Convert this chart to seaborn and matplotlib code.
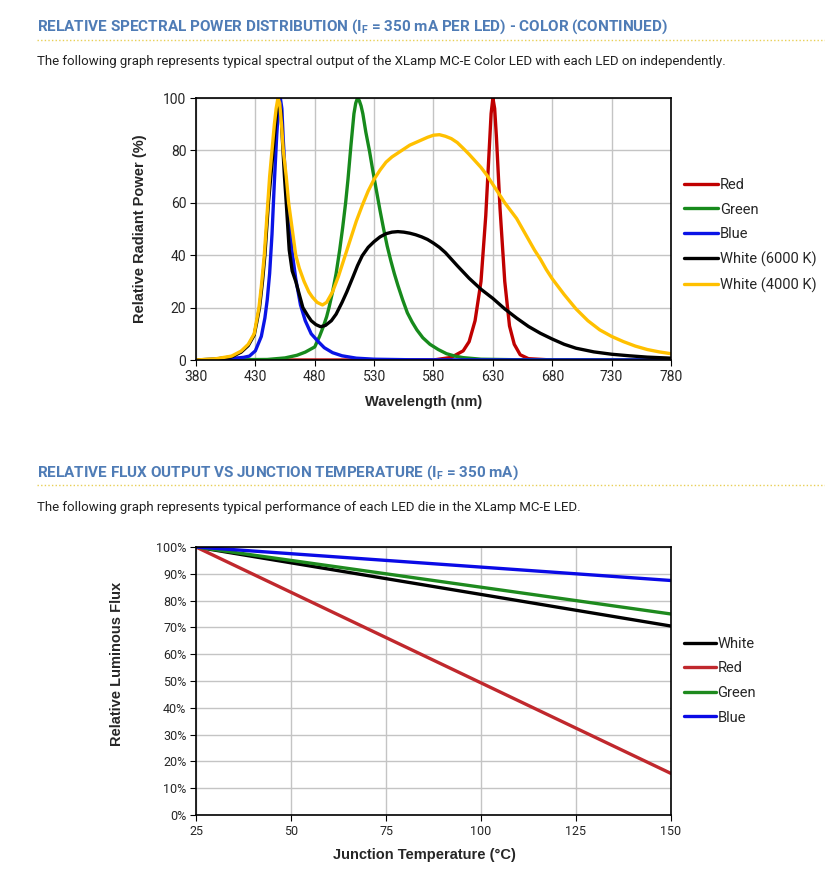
import numpy as np
import pandas as pd
import matplotlib
matplotlib.use("Agg")
import matplotlib.pyplot as plt
from matplotlib.lines import Line2D
import seaborn as sns

# ---------------- data: spectral power distribution ----------------
red_wl = [380, 580, 595, 605, 610, 615, 620, 624, 627, 628.5, 630, 631.5, 633, 636, 640, 644, 648, 653, 660, 680, 780]
red_val = [0, 0, 1, 3.5, 7, 15, 30, 55, 81, 94, 100, 96, 85, 58, 30, 13, 6, 2, 0.5, 0, 0]

green_wl = [380, 440, 455, 465, 472, 480, 484, 487, 490, 492, 495, 498, 501, 503.5, 506, 508, 510.5, 513, 514.5, 516,
            517.5, 519, 520.5, 523, 526, 529, 532, 535, 538, 541, 544, 547, 550, 554, 558, 562, 566, 571, 577, 584,
            591, 598, 605, 620, 650, 780]
green_val = [0, 0.2, 0.8, 1.8, 3, 5, 9, 12.5, 16.5, 20, 26, 33, 42, 50.5, 60, 69, 82, 94, 98, 100,
             99, 97, 94, 87, 80, 72, 64.5, 57, 50, 43.5, 38, 33, 28.5, 23, 18, 14.5, 11.5, 8.5, 6, 4,
             2.4, 1.5, 0.9, 0.3, 0.1, 0]

blue_wl = [380, 400, 420, 425, 430, 435, 438, 440, 442, 444, 446, 448, 449.5, 451, 452.3, 453.5, 455, 457, 459, 461,
           464, 468, 472, 477, 483, 488, 495, 503, 515, 530, 560, 600, 780]
blue_val = [0, 0.2, 1.0, 1.5, 3.5, 9, 16, 23, 33, 48, 68, 86, 96, 100, 96, 84, 72, 60, 50, 41,
            31, 21, 15, 10, 7, 4.7, 2.8, 1.6, 0.7, 0.3, 0.1, 0.05, 0]

w6000_wl = [380, 397, 410, 418, 424, 429, 431, 433.5, 436, 438, 439.5, 441, 443, 445, 447, 448.5, 450, 451.5, 453,
            454.5, 456, 458.5, 461, 464, 467, 470, 474, 477, 481, 485, 489, 494, 498, 503, 507, 512, 516,
            520, 525, 530, 535, 540, 545, 550, 555, 560, 565, 570, 575, 580, 585, 590, 595, 600, 610, 620,
            630, 640, 650, 660, 670, 680, 690, 700, 715, 730, 745, 760, 780]
w6000_val = [0, 0.4, 1.2, 3, 5.5, 9.5, 14, 20, 30, 40, 50, 60, 70, 80, 90, 96, 98, 95, 82,
             70, 60, 42, 34, 30, 25, 20, 17, 15, 13.5, 12.7, 13.2, 15, 17.5, 22, 26, 31.5, 36,
             39.8, 43, 45.2, 47, 48.2, 48.8, 49, 48.8, 48.4, 47.8, 47, 46, 44.6, 43, 41, 38.5, 36, 31.2, 27,
             23.5, 19.5, 16, 12.8, 10.2, 8, 6, 4.5, 3.1, 2.2, 1.6, 1.1, 0.7]

w4000_wl = [380, 397, 410, 418, 424, 429, 431, 433, 435, 437.5, 439, 440.5, 442, 444, 446, 447.5, 449, 450.5, 452,
            453.5, 456, 458, 461, 464, 467, 471, 475, 478, 482, 486.5, 490, 495, 500, 505, 510, 515, 520,
            525, 530, 535, 540, 545, 550, 555, 560, 565, 570, 575, 580, 585, 590, 595, 600, 605, 610, 615,
            620, 625, 630, 635, 640, 645, 650, 655, 660, 665, 670, 675, 680, 690, 700, 710, 720, 730, 740,
            750, 760, 770, 780]
w4000_val = [0, 0.5, 1.5, 3.4, 6, 10, 15, 20, 28, 40, 50, 60, 70, 80, 90, 96, 100, 98, 90,
             80, 70, 60, 50, 40, 35, 30, 26, 24, 22, 21, 22, 26, 32, 39, 46, 53, 59,
             64.5, 69, 72.5, 75.5, 77.5, 79, 80.5, 82, 83, 84, 85, 85.8, 86, 85.4, 84.5, 83, 80.8, 78.5, 76,
             73.5, 70.5, 67, 63.5, 60, 57, 54, 50, 46, 42, 38.5, 34.5, 31, 25, 19.5, 15, 11.5, 9, 7,
             5.3, 4, 3.1, 2.4]

spec_names = ["Red", "Green", "Blue", "White (6000 K)", "White (4000 K)"]
spec_colors = ["#c00000", "#178a1c", "#0a14e6", "#000000", "#ffc000"]

# ---------------- data: relative flux vs junction temperature ----------------
temps = [25, 50, 75, 100, 125, 150]
flux_white = [100, 94.1, 88.2, 82.3, 76.4, 70.5]
flux_red = [100, 83.1, 66.2, 49.3, 32.4, 15.5]
flux_green = [100, 95.0, 90.0, 85.0, 80.0, 75.0]
flux_blue = [100, 97.5, 95.0, 92.5, 90.0, 87.5]
flux_names = ["White", "Red", "Green", "Blue"]
flux_colors = ["#000000", "#c0282d", "#1e8a1e", "#0a0ae6"]

# ---------------- build tables ----------------
spec_df = pd.concat([
    pd.DataFrame({"wl": w, "val": v, "series": n})
    for w, v, n in zip([red_wl, green_wl, blue_wl, w6000_wl, w4000_wl],
                       [red_val, green_val, blue_val, w6000_val, w4000_val], spec_names)
], ignore_index=True)

flux_df = pd.concat([
    pd.DataFrame({"t": temps, "val": v, "series": n})
    for v, n in zip([flux_white, flux_red, flux_green, flux_blue], flux_names)
], ignore_index=True)

# ---------------- styling ----------------
sns.set_theme(style="white")
plt.rcParams["font.family"] = ["Roboto", "DejaVu Sans"]
plt.rcParams["axes.edgecolor"] = "black"
plt.rcParams["axes.linewidth"] = 1.0

W, H = 825, 881
fig = plt.figure(figsize=(W / 100, H / 100), dpi=100)

def fx(px):
    return px / W

def fy(py):
    return 1 - py / H

title_color = "#4f7cb6"
dot_color = "#e8cf55"

def heading(y_title, y_line, y_sub, title, sub):
    fig.text(fx(37), fy(y_title), title, fontsize=11, fontweight="bold", color=title_color,
             family=["Roboto", "DejaVu Sans"], va="center", ha="left")
    fig.add_artist(Line2D([fx(37), fx(825)], [fy(y_line), fy(y_line)], transform=fig.transFigure,
                          color=dot_color, lw=1.0, linestyle=(0, (1, 1.6))))
    fig.text(fx(37), fy(y_sub), sub, fontsize=9.5, color="#222222",
             family=["Roboto", "DejaVu Sans"], va="center", ha="left")

heading(27, 40, 61,
        r"RELATIVE SPECTRAL POWER DISTRIBUTION (I$\mathregular{_F}$ = 350 mA PER LED) - COLOR (CONTINUED)",
        "The following graph represents typical spectral output of the XLamp MC-E Color LED with each LED on independently.")
heading(473, 485, 507,
        r"RELATIVE FLUX OUTPUT VS JUNCTION TEMPERATURE (I$\mathregular{_F}$ = 350 mA)",
        "The following graph represents typical performance of each LED die in the XLamp MC-E LED.")

label_font = dict(family=["Liberation Sans", "DejaVu Sans"], fontweight="bold", fontsize=10.5)

def style_axes(ax, ticksize):
    ax.grid(True, color="#c4c4c4", lw=1.0)
    ax.set_axisbelow(True)
    for s in ax.spines.values():
        s.set_visible(True)
        s.set_color("black")
        s.set_linewidth(1.2)
    ax.tick_params(axis="both", direction="out", length=4, width=0.8, color="black",
                   labelsize=ticksize, bottom=True, left=True, pad=3)

# ---------------- top chart ----------------
ax1 = fig.add_axes([fx(196), fy(360), fx(671) - fx(196), fy(98) - fy(360)])
sns.lineplot(data=spec_df, x="wl", y="val", hue="series", hue_order=spec_names,
             palette=dict(zip(spec_names, spec_colors)), estimator=None, sort=False,
             linewidth=2.4, ax=ax1)
ax1.set_xlim(380, 780)
ax1.set_ylim(0, 100)
ax1.set_xticks(np.arange(380, 781, 50))
ax1.set_yticks(np.arange(0, 101, 20))
style_axes(ax1, 10)
ax1.set_xlabel("Wavelength (nm)", **label_font)
ax1.set_ylabel("Relative Radiant Power (%)", **label_font)
ax1.xaxis.set_label_coords(0.48, -0.132)
ax1.yaxis.set_label_coords(-0.103, 0.5)
h, l = ax1.get_legend_handles_labels()
ax1.legend(h, l, loc="upper left", bbox_to_anchor=(fx(684), fy(178)), bbox_transform=fig.transFigure,
           frameon=False, fontsize=10.5, handlelength=2.35, handletextpad=0.1, labelspacing=0.72,
           borderpad=0, borderaxespad=0)

# ---------------- bottom chart ----------------
ax2 = fig.add_axes([fx(196), fy(815), fx(671) - fx(196), fy(547) - fy(815)])
sns.lineplot(data=flux_df, x="t", y="val", hue="series", hue_order=flux_names,
             palette=dict(zip(flux_names, flux_colors)), estimator=None, sort=False,
             linewidth=2.4, ax=ax2)
ax2.set_xlim(25, 150)
ax2.set_ylim(0, 100)
ax2.set_xticks(temps)
ax2.set_yticks(np.arange(0, 101, 10))
ax2.set_yticklabels([f"{v}%" for v in range(0, 101, 10)])
style_axes(ax2, 9)
ax2.set_xlabel("Junction Temperature (°C)", **label_font)
ax2.set_ylabel("Relative Luminous Flux", **label_font)
ax2.xaxis.set_label_coords(0.48, -0.122)
ax2.yaxis.set_label_coords(-0.152, 0.563)
h, l = ax2.get_legend_handles_labels()
ax2.legend(h, l, loc="upper left", bbox_to_anchor=(fx(684), fy(637)), bbox_transform=fig.transFigure,
           frameon=False, fontsize=10.5, handlelength=2.2, handletextpad=0.1, labelspacing=0.72,
           borderpad=0, borderaxespad=0)

fig.savefig("out.png", dpi=100, facecolor="white")
